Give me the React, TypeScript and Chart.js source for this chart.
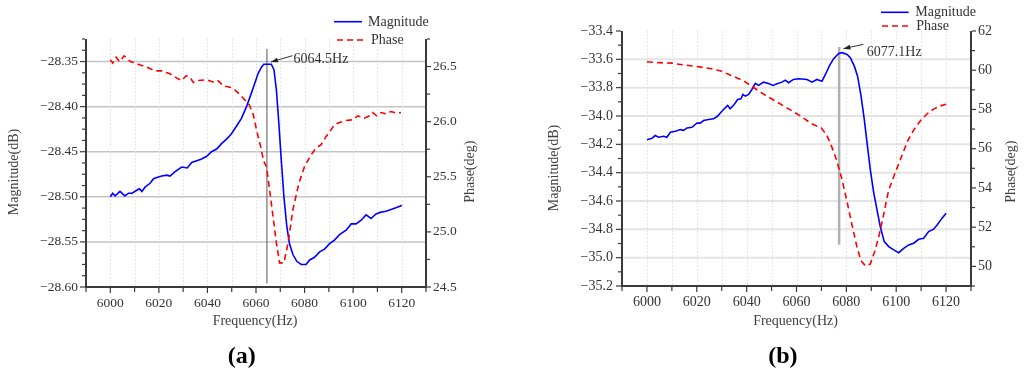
import React, { useEffect, useRef } from 'react';
import { Chart, registerables } from 'chart.js';

Chart.register(...registerables);

const FAMILY = '"Liberation Serif", "DejaVu Serif", serif';

// ---------- Panel (a) data ----------
const magAFreq = [6000, 6001, 6002, 6004, 6006, 6007.5, 6009, 6010.7, 6012, 6013, 6014.4, 6016.4, 6017.8, 6019.8, 6021.2, 6023.3, 6024.6, 6026.7, 6029.4, 6031.7, 6033.5, 6035.6, 6037.6, 6039.7, 6041.7, 6043.8, 6045.8, 6047.9, 6049.9, 6052, 6054, 6056.1, 6058.1, 6059.5, 6060.9, 6062.3, 6063.2, 6066.3, 6067.4, 6068.4, 6069.5, 6070.4, 6071.5, 6072.7, 6073.8, 6075.2, 6076.8, 6078.6, 6080.6, 6082.1, 6084.1, 6086.2, 6088.2, 6090.3, 6092.3, 6094.4, 6097.1, 6099.2, 6101.2, 6103.3, 6105.3, 6107.4, 6109.4, 6111.5, 6113.5, 6115.6, 6117.6, 6119.7, 6120];
const magAVal = [-28.5, -28.496, -28.499, -28.494, -28.499, -28.496, -28.496, -28.493, -28.491, -28.494, -28.489, -28.485, -28.48, -28.478, -28.477, -28.476, -28.477, -28.472, -28.467, -28.468, -28.462, -28.46, -28.458, -28.455, -28.45, -28.447, -28.441, -28.436, -28.43, -28.4215, -28.413, -28.4, -28.385, -28.374, -28.363, -28.356, -28.353, -28.353, -28.359, -28.3815, -28.422, -28.459, -28.5, -28.533, -28.552, -28.564, -28.5715, -28.575, -28.575, -28.57, -28.567, -28.561, -28.558, -28.552, -28.548, -28.542, -28.537, -28.53, -28.53, -28.526, -28.52, -28.524, -28.519, -28.517, -28.516, -28.514, -28.512, -28.51, -28.509];
const phaseAFreq = [6000, 6001, 6002.4, 6003.8, 6005.7, 6006.8, 6008.2, 6009.6, 6012.3, 6015, 6018.5, 6021.2, 6024.6, 6027.4, 6029.4, 6031.2, 6032.6, 6034.2, 6036.3, 6039.7, 6043.1, 6044.5, 6046.5, 6049.3, 6051.3, 6053.4, 6055.4, 6057.2, 6058.9, 6060.2, 6061.9, 6063.2, 6064.3, 6065.6, 6067, 6068.4, 6069.7, 6071.5, 6073.2, 6075.2, 6077.7, 6080, 6082.7, 6084.8, 6086.8, 6088.9, 6090.9, 6092.3, 6094.4, 6097.1, 6099.8, 6101.9, 6104.6, 6106.7, 6108, 6109.7, 6111.5, 6113.5, 6115.6, 6117.6, 6119.7];
const phaseAVal = [26.561, 26.531, 26.585, 26.545, 26.597, 26.576, 26.545, 26.536, 26.515, 26.494, 26.461, 26.461, 26.434, 26.395, 26.373, 26.416, 26.409, 26.355, 26.373, 26.38, 26.355, 26.37, 26.325, 26.313, 26.289, 26.244, 26.198, 26.153, 26.063, 25.927, 25.775, 25.639, 25.594, 25.383, 25.141, 24.9, 24.719, 24.719, 24.9, 25.202, 25.444, 25.594, 25.7, 25.761, 25.791, 25.866, 25.927, 25.972, 25.993, 26.011, 26.017, 26.053, 26.032, 26.053, 26.083, 26.053, 26.083, 26.071, 26.092, 26.078, 26.083];

// ---------- Panel (b) data ----------
const magBFreq = [6000, 6002, 6003.3, 6004.7, 6006.7, 6008, 6009.4, 6011.4, 6013.4, 6014.7, 6016.1, 6018.1, 6020.1, 6021.4, 6022.7, 6024.7, 6026.7, 6028.3, 6029.7, 6031.4, 6032.4, 6033.4, 6035, 6036.4, 6037.7, 6038.5, 6039.5, 6040.8, 6042.1, 6043.5, 6044.8, 6046.8, 6048.8, 6050.6, 6052.2, 6054.2, 6055.5, 6056.8, 6058.8, 6060.8, 6064.2, 6066.2, 6068.2, 6070.2, 6071.6, 6073.3, 6074.9, 6076.9, 6078.3, 6080.3, 6081.6, 6083.2, 6084.5, 6085.9, 6087.2, 6088.3, 6089.6, 6091, 6092.3, 6093.6, 6095.2, 6097, 6099, 6101, 6103, 6105, 6107, 6109, 6111, 6113, 6115, 6116.4, 6118.4, 6120];
const magBVal = [-34.167, -34.158, -34.138, -34.15, -34.143, -34.15, -34.115, -34.108, -34.096, -34.101, -34.084, -34.08, -34.049, -34.05, -34.032, -34.025, -34.02, -34.002, -33.973, -33.942, -33.926, -33.949, -33.919, -33.884, -33.879, -33.848, -33.86, -33.848, -33.813, -33.77, -33.784, -33.761, -33.77, -33.784, -33.773, -33.761, -33.747, -33.765, -33.742, -33.737, -33.742, -33.761, -33.742, -33.754, -33.707, -33.643, -33.595, -33.558, -33.553, -33.565, -33.588, -33.648, -33.719, -33.86, -34.025, -34.19, -34.379, -34.544, -34.662, -34.78, -34.887, -34.922, -34.945, -34.965, -34.934, -34.91, -34.898, -34.87, -34.863, -34.816, -34.799, -34.769, -34.721, -34.686];
const phaseBFreq = [6000, 6006.7, 6010, 6014.7, 6020, 6025.4, 6029.4, 6033.4, 6038.8, 6042.8, 6046.8, 6052.2, 6057.5, 6061.5, 6066, 6070, 6072.2, 6074.2, 6076.2, 6078.2, 6080.2, 6082.2, 6084.2, 6085.8, 6087.6, 6089.6, 6091.2, 6092.9, 6094.9, 6096.9, 6099.6, 6102.3, 6104.6, 6107, 6109.7, 6112.4, 6115, 6117.7, 6120];
const phaseBVal = [60.43, 60.37, 60.36, 60.27, 60.19, 60.09, 59.97, 59.76, 59.46, 59.12, 58.78, 58.38, 57.98, 57.67, 57.28, 57.05, 56.68, 56.08, 55.38, 54.45, 53.35, 52.15, 51.02, 50.3, 50.03, 50.12, 50.7, 51.45, 52.6, 53.85, 54.78, 55.65, 56.4, 56.95, 57.42, 57.78, 58.02, 58.18, 58.27];

const freqLabels = [6000, 6020, 6040, 6060, 6080, 6100, 6120];

const TEXT = '#333333';
const AXIS = '#3a3a3a';

type Panel = any;

const panelA: Panel = {
  magF: magAFreq, magV: magAVal, phF: phaseAFreq, phV: phaseAVal,
  yMin: -28.6, yMax: -28.325, yStep: 0.05, yMinor: 0.0125, yDec: 2,
  y1Min: 24.5, y1Max: 26.75, y1Step: 0.5, y1Minor: 0.25, y1Dec: 1,
  plotLeft: 86, rightW: 86, top: 39, bottomH: 89,
  tickFont: 13.5, yPad: 8, y1Pad: 7, xPad: 8,
  gridColor: '#c4c4c4', gridWidth: 1.5,
  ann: { f: 6064.5, yTop: -28.336, yBot: -28.596, tipY: -28.3505, color: '#555555', width: 1,
    tipDx: 4, tailDx: 25.6, tailDy: -6.3, textDx: 26.6, textDy: -2.3, label: '6064.5Hz' },
  legend: [
    { label: 'Magnitude', x1: 334, x2: 362, y: 21.7, tx: 368, dash: false },
    { label: 'Phase', x1: 337, x2: 365, y: 40, tx: 371, dash: true },
  ],
  magTitle: [14, 172], phaseTitle: [470, 171.7], freqTitle: [255, 321.7],
  caption: ['(a)', 241.7, 357],
};

const panelB: Panel = {
  magF: magBFreq, magV: magBVal, phF: phaseBFreq, phV: phaseBVal,
  yMin: -35.2, yMax: -33.4, yStep: 0.2, yMinor: 0.1, yDec: 1,
  y1Min: 49, y1Max: 62, y1Step: 2, y1Minor: 1, y1Dec: 0,
  plotLeft: 110, rightW: 53, top: 31, bottomH: 90,
  tickFont: 14, yPad: 9, y1Pad: 7, xPad: 8,
  gridColor: '#e4e4e4', gridWidth: 2,
  ann: { f: 6077.1, yTop: -33.513, yBot: -34.908, tipY: -33.5246, color: '#b0b0b0', width: 2.5,
    tipDx: 4.3, tailDx: 24.3, tailDy: -4.3, textDx: 27.7, textDy: 4, label: '6077.1Hz' },
  legend: [
    { label: 'Magnitude', x1: 369, x2: 396.7, y: 12.3, tx: 403.3, dash: false },
    { label: 'Phase', x1: 370, x2: 398, y: 26, tx: 404.3, dash: true },
  ],
  magTitle: [42.7, 168], phaseTitle: [499, 171.7], freqTitle: [283.5, 321.7],
  caption: ['(b)', 270.8, 357],
};

const fmt = (v: number, d: number) => (v < -1e-9 ? '\u2212' : '') + Math.abs(v).toFixed(d);

function line(ctx: CanvasRenderingContext2D, x1: number, y1: number, x2: number, y2: number) {
  ctx.beginPath();
  ctx.moveTo(x1, y1);
  ctx.lineTo(x2, y2);
  ctx.stroke();
}

function makeDecor(p: Panel) {
  return {
    id: 'decor',
    beforeDatasetsDraw(chart: any) {
      const { ctx, chartArea: a, scales } = chart;
      const xs = scales.x, ys = scales.y;
      ctx.save();
      // horizontal gridlines at left-axis majors
      ctx.strokeStyle = p.gridColor;
      ctx.lineWidth = p.gridWidth;
      const n = Math.round((p.yMax - p.yMin) / p.yStep) + 1;
      for (let i = 1; i <= n; i++) {
        const v = p.yMin + i * p.yStep;
        if (v >= p.yMax - 1e-9) break;
        const py = ys.getPixelForValue(v);
        line(ctx, a.left, py, a.right, py);
      }
      // vertical dotted gridlines every 10 Hz
      ctx.strokeStyle = '#dedede';
      ctx.lineWidth = 1;
      ctx.setLineDash([1.5, 2]);
      for (let f = 6000; f <= 6120; f += 10) {
        const px = Math.round(xs.getPixelForValue(f)) + 0.5;
        line(ctx, px, a.top, px, a.bottom);
      }
      ctx.setLineDash([]);
      // annotation vertical line
      const an = p.ann;
      const ax = xs.getPixelForValue(an.f);
      ctx.strokeStyle = an.color;
      ctx.lineWidth = an.width;
      line(ctx, ax, ys.getPixelForValue(an.yTop), ax, ys.getPixelForValue(an.yBot));
      ctx.restore();
    },
    afterDatasetsDraw(chart: any) {
      const { ctx, chartArea: a, scales } = chart;
      const xs = scales.x, ys = scales.y, ys1 = scales.y1;
      ctx.save();
      // axes
      ctx.strokeStyle = AXIS;
      ctx.lineWidth = 2;
      line(ctx, a.left, a.top, a.left, a.bottom + 1);
      line(ctx, a.right, a.top, a.right, a.bottom + 1);
      line(ctx, a.left - 1, a.bottom, a.right + 1, a.bottom);
      // ticks
      ctx.lineWidth = 1.2;
      const isMult = (v: number, s: number) => Math.abs(v / s - Math.round(v / s)) < 1e-6;
      const nl = Math.round((p.yMax - p.yMin) / p.yMinor);
      for (let i = 0; i <= nl; i++) {
        const v = p.yMin + i * p.yMinor;
        const py = ys.getPixelForValue(v);
        const len = isMult(v, p.yStep) ? 5 : 3;
        line(ctx, a.left - 1, py, a.left - 1 - len, py);
      }
      const nr = Math.round((p.y1Max - p.y1Min) / p.y1Minor);
      for (let i = 0; i <= nr; i++) {
        const v = p.y1Min + i * p.y1Minor;
        const py = ys1.getPixelForValue(v);
        const len = isMult(v, p.y1Step) ? 4 : 3;
        line(ctx, a.right + 1, py, a.right + 1 + len, py);
      }
      for (let f = 5990; f <= 6130; f += 10) {
        const px = xs.getPixelForValue(f);
        const len = f % 20 === 0 ? 5 : 4;
        line(ctx, px, a.bottom + 1, px, a.bottom + 1 + len);
      }
      // annotation arrow + label
      const an = p.ann;
      const ax = xs.getPixelForValue(an.f);
      const tipX = ax + an.tipDx;
      const tipY = ys.getPixelForValue(an.tipY);
      const tailX = ax + an.tailDx;
      const tailY = tipY + an.tailDy;
      ctx.strokeStyle = '#333';
      ctx.fillStyle = '#222';
      ctx.lineWidth = 1;
      line(ctx, tailX, tailY, tipX, tipY);
      const ang = Math.atan2(tipY - tailY, tipX - tailX);
      const hl = 7, hw = 2.4;
      ctx.beginPath();
      ctx.moveTo(tipX, tipY);
      ctx.lineTo(tipX - hl * Math.cos(ang) + hw * Math.sin(ang), tipY - hl * Math.sin(ang) - hw * Math.cos(ang));
      ctx.lineTo(tipX - hl * Math.cos(ang) - hw * Math.sin(ang), tipY - hl * Math.sin(ang) + hw * Math.cos(ang));
      ctx.closePath();
      ctx.fill();
      ctx.fillStyle = TEXT;
      ctx.font = `14px ${FAMILY}`;
      ctx.textAlign = 'left';
      ctx.textBaseline = 'middle';
      ctx.fillText(an.label, ax + an.textDx, tipY + an.textDy);
      // legend
      for (const it of p.legend) {
        ctx.lineWidth = 1.6;
        if (it.dash) {
          ctx.strokeStyle = '#ff0000';
          ctx.setLineDash([6, 4]);
        } else {
          ctx.strokeStyle = '#0000ff';
          ctx.setLineDash([]);
        }
        line(ctx, it.x1, it.y, it.x2, it.y);
        ctx.setLineDash([]);
        ctx.fillStyle = TEXT;
        ctx.font = `14px ${FAMILY}`;
        ctx.textAlign = 'left';
        ctx.textBaseline = 'middle';
        ctx.fillText(it.label, it.tx, it.y + 0.5);
      }
      // axis titles
      ctx.fillStyle = '#404040';
      ctx.font = `14px ${FAMILY}`;
      ctx.textAlign = 'center';
      ctx.textBaseline = 'middle';
      ctx.fillText('Frequency(Hz)', p.freqTitle[0], p.freqTitle[1]);
      const rot = (txt: string, x: number, y: number) => {
        ctx.save();
        ctx.translate(x, y);
        ctx.rotate(-Math.PI / 2);
        ctx.fillText(txt, 0, 0);
        ctx.restore();
      };
      rot('Magnitude(dB)', p.magTitle[0], p.magTitle[1]);
      rot('Phase(deg)', p.phaseTitle[0], p.phaseTitle[1]);
      // caption
      ctx.fillStyle = '#000';
      ctx.font = `bold 24px ${FAMILY}`;
      ctx.fillText(p.caption[0], p.caption[1], p.caption[2]);
      ctx.restore();
    },
  };
}

function PanelChart({ p, left }: { p: Panel; left: number }) {
  const ref = useRef<HTMLCanvasElement>(null);
  useEffect(() => {
    if (!ref.current) return;
    const tickFont = { family: FAMILY, size: p.tickFont };
    const chart = new Chart(ref.current, {
      type: 'line',
      data: {
        datasets: [
          {
            label: 'Phase',
            data: p.phF.map((x: number, i: number) => ({ x, y: p.phV[i] })),
            yAxisID: 'y1',
            borderColor: '#ff0000',
            borderWidth: 1.6,
            borderDash: [6, 4],
            pointRadius: 0,
            tension: 0,
            fill: false,
          },
          {
            label: 'Magnitude',
            data: p.magF.map((x: number, i: number) => ({ x, y: p.magV[i] })),
            yAxisID: 'y',
            borderColor: '#0000ff',
            borderWidth: 1.6,
            pointRadius: 0,
            tension: 0,
            fill: false,
          },
        ],
      },
      options: {
        responsive: false,
        animation: false,
        layout: { padding: { top: p.top, left: 0, right: 0, bottom: 0 } },
        plugins: { legend: { display: false }, tooltip: { enabled: false } },
        scales: {
          x: {
            type: 'linear',
            position: 'bottom',
            min: 5990,
            max: 6130,
            grid: { display: false, drawTicks: false },
            border: { display: false },
            afterFit: (s: any) => { s.height = p.bottomH; },
            ticks: {
              stepSize: 10,
              autoSkip: false,
              maxRotation: 0,
              padding: p.xPad,
              color: TEXT,
              font: tickFont,
              callback: (v: any) => {
                const r = Math.round(Number(v));
                return freqLabels.includes(r) ? String(r) : '';
              },
            },
          },
          y: {
            type: 'linear',
            position: 'left',
            min: p.yMin,
            max: p.yMax,
            grid: { display: false, drawTicks: false },
            border: { display: false },
            afterFit: (s: any) => { s.width = p.plotLeft; },
            ticks: {
              stepSize: p.yStep,
              includeBounds: false,
              padding: p.yPad,
              color: TEXT,
              font: tickFont,
              callback: (v: any) => fmt(Number(v), p.yDec),
            },
          },
          y1: {
            type: 'linear',
            position: 'right',
            min: p.y1Min,
            max: p.y1Max,
            grid: { display: false, drawTicks: false },
            border: { display: false },
            afterFit: (s: any) => { s.width = p.rightW; },
            ticks: {
              stepSize: p.y1Step,
              includeBounds: false,
              padding: p.y1Pad,
              color: TEXT,
              font: tickFont,
              callback: (v: any) => fmt(Number(v), p.y1Dec),
            },
          },
        },
      },
      plugins: [makeDecor(p)],
    } as any);
    return () => chart.destroy();
  }, [p]);
  return (
    <canvas
      ref={ref}
      width={512}
      height={376}
      style={{ position: 'absolute', left, top: 0, width: 512, height: 376, display: 'block' }}
    />
  );
}

export default function App() {
  return (
    <div style={{ position: 'absolute', left: 0, top: 0, width: 1024, height: 376, background: '#fff', overflow: 'hidden' }}>
      <PanelChart p={panelA} left={0} />
      <PanelChart p={panelB} left={512} />
    </div>
  );
}
